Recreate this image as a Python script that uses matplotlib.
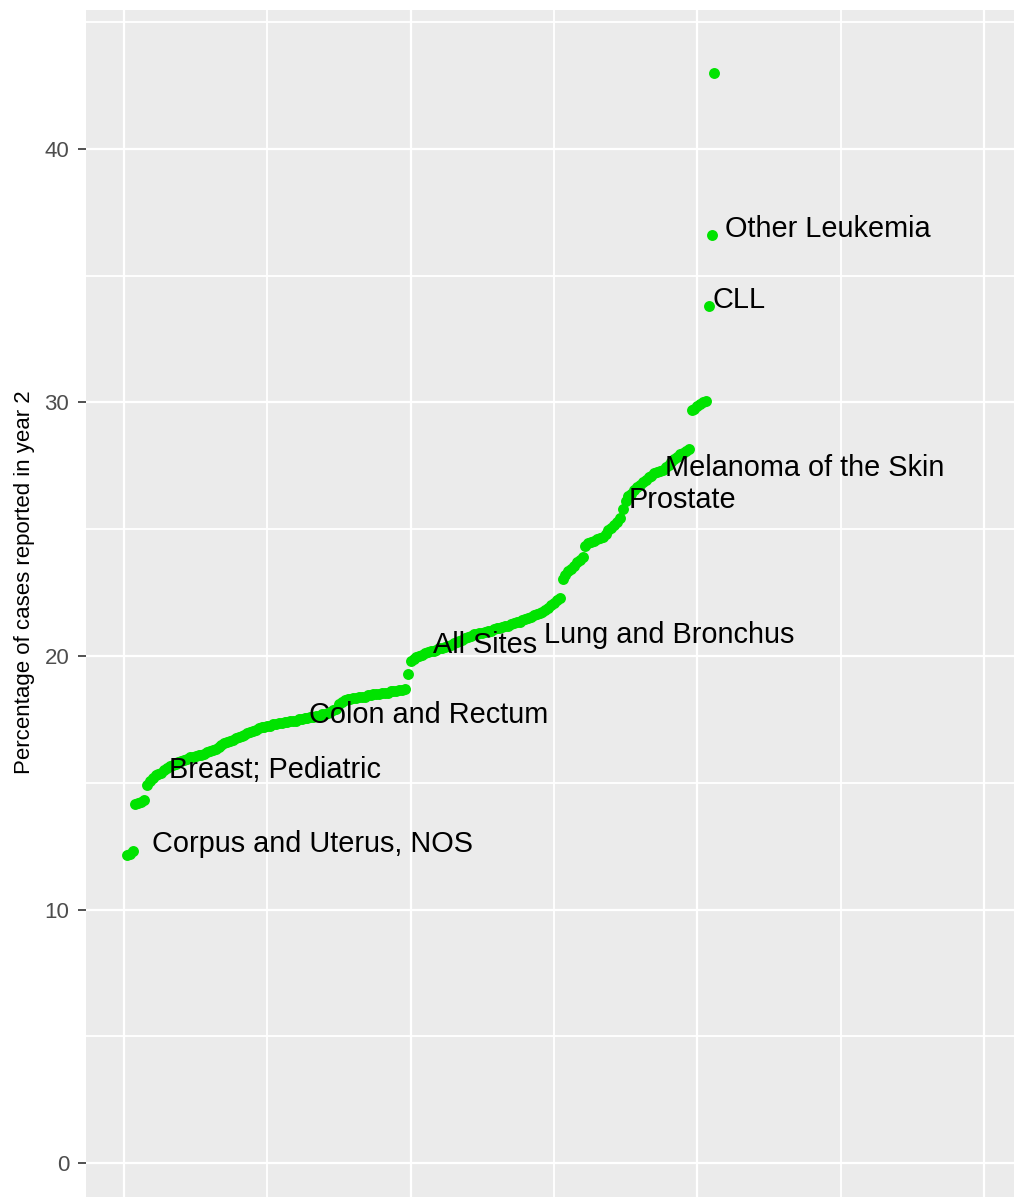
import matplotlib.pyplot as plt
import numpy as np

# percentage of cases reported in year 2, one value per site, sorted
pct_year2 = [
    12.15, 12.2, 12.3, 14.15, 14.2, 14.25, 14.3, 14.9, 15.05, 15.2,
    15.3, 15.35, 15.4, 15.5, 15.6, 15.65, 15.7, 15.75, 15.8, 15.85,
    15.9, 15.95, 16.0, 16.0, 16.05, 16.1, 16.1, 16.15, 16.2, 16.25,
    16.3, 16.35, 16.4, 16.5, 16.55, 16.6, 16.65, 16.7, 16.75, 16.8,
    16.85, 16.9, 16.95, 17.0, 17.05, 17.1, 17.15, 17.2, 17.2, 17.25,
    17.25, 17.3, 17.3, 17.35, 17.35, 17.4, 17.4, 17.45, 17.45, 17.45,
    17.5, 17.5, 17.55, 17.55, 17.6, 17.6, 17.65, 17.65, 17.7, 17.7,
    17.75, 17.8, 17.85, 17.9, 18.1, 18.2, 18.25, 18.3, 18.3, 18.35,
    18.35, 18.4, 18.4, 18.4, 18.45, 18.45, 18.5, 18.5, 18.5, 18.55,
    18.55, 18.55, 18.6, 18.6, 18.6, 18.65, 18.65, 18.7, 19.3, 19.8,
    19.9, 19.95, 20.0, 20.05, 20.1, 20.15, 20.2, 20.2, 20.25, 20.3,
    20.3, 20.35, 20.4, 20.45, 20.5, 20.55, 20.6, 20.65, 20.7, 20.75,
    20.8, 20.85, 20.85, 20.9, 20.9, 20.95, 21.0, 21.0, 21.05, 21.1,
    21.1, 21.15, 21.2, 21.2, 21.25, 21.3, 21.35, 21.35, 21.4, 21.45,
    21.5, 21.55, 21.6, 21.65, 21.7, 21.75, 21.8, 21.9, 22.0, 22.1,
    22.2, 22.3, 23.05, 23.2, 23.35, 23.45, 23.55, 23.7, 23.8, 23.9,
    24.35, 24.45, 24.5, 24.55, 24.6, 24.65, 24.7, 24.8, 24.95, 25.05,
    25.15, 25.3, 25.45, 25.8, 26.1, 26.3, 26.4, 26.55, 26.65, 26.75,
    26.85, 26.95, 27.05, 27.1, 27.2, 27.25, 27.3, 27.35, 27.45, 27.55,
    27.65, 27.75, 27.85, 27.95, 28.0, 28.1, 28.15, 29.7, 29.75, 29.85,
    29.95, 30.0, 30.05, 33.8, 36.6, 43.0,
]
rank = np.arange(1, len(pct_year2) + 1)

# labelled sites (text anchor in data units)
label_names = ["Corpus and Uterus, NOS", "Breast; Pediatric", "Colon and Rectum",
               "All Sites", "Lung and Bronchus", "Prostate",
               "Melanoma of the Skin", "CLL", "Other Leukemia"]
label_x = [9.8, 15.7, 64.5, 107.8, 146.5, 176.2, 188.8, 205.2, 209.7]
label_y = [12.27, 15.19, 17.36, 20.12, 20.51, 25.84, 27.1, 33.73, 36.53]

plt.rcParams['font.family'] = ['Liberation Sans', 'DejaVu Sans']

fig = plt.figure(figsize=(10.14, 11.97), dpi=100)
ax = fig.add_axes([86 / 1014, 0, 1 - 86 / 1014, 1 - 10 / 1197])
ax.set_facecolor('#EBEBEB')

ax.scatter(rank, pct_year2, s=62, color='#00E300', linewidths=0, zorder=3)
for name, x, y in zip(label_names, label_x, label_y):
    ax.text(x, y, name, fontsize=20.8, ha='left', va='baseline', color='black', zorder=4)

ax.set_xlim(-13.26, 310.5)
ax.set_ylim(-1.34, 45.48)
ax.set_xticks([0, 100, 200, 300])
ax.set_xticks([50, 150, 250], minor=True)
ax.set_yticks([0, 10, 20, 30, 40])
ax.set_yticks([5, 15, 25, 35, 45], minor=True)
ax.grid(which='major', color='white', linewidth=1.6)
ax.grid(which='minor', color='white', linewidth=1.3)
ax.set_axisbelow(True)
for s in ax.spines.values():
    s.set_visible(False)

ax.tick_params(axis='x', which='both', length=0, labelbottom=False)
ax.tick_params(axis='y', which='major', length=6, width=1.2, color='#333333',
               labelsize=16, labelcolor='#4D4D4D', pad=6)
ax.tick_params(axis='y', which='minor', length=0)

fig.text(25 / 1014, 1 - 582 / 1197, 'Percentage of cases reported in year 2',
         rotation=90, ha='center', va='center', fontsize=16)

fig.savefig('out.png', dpi=100)
